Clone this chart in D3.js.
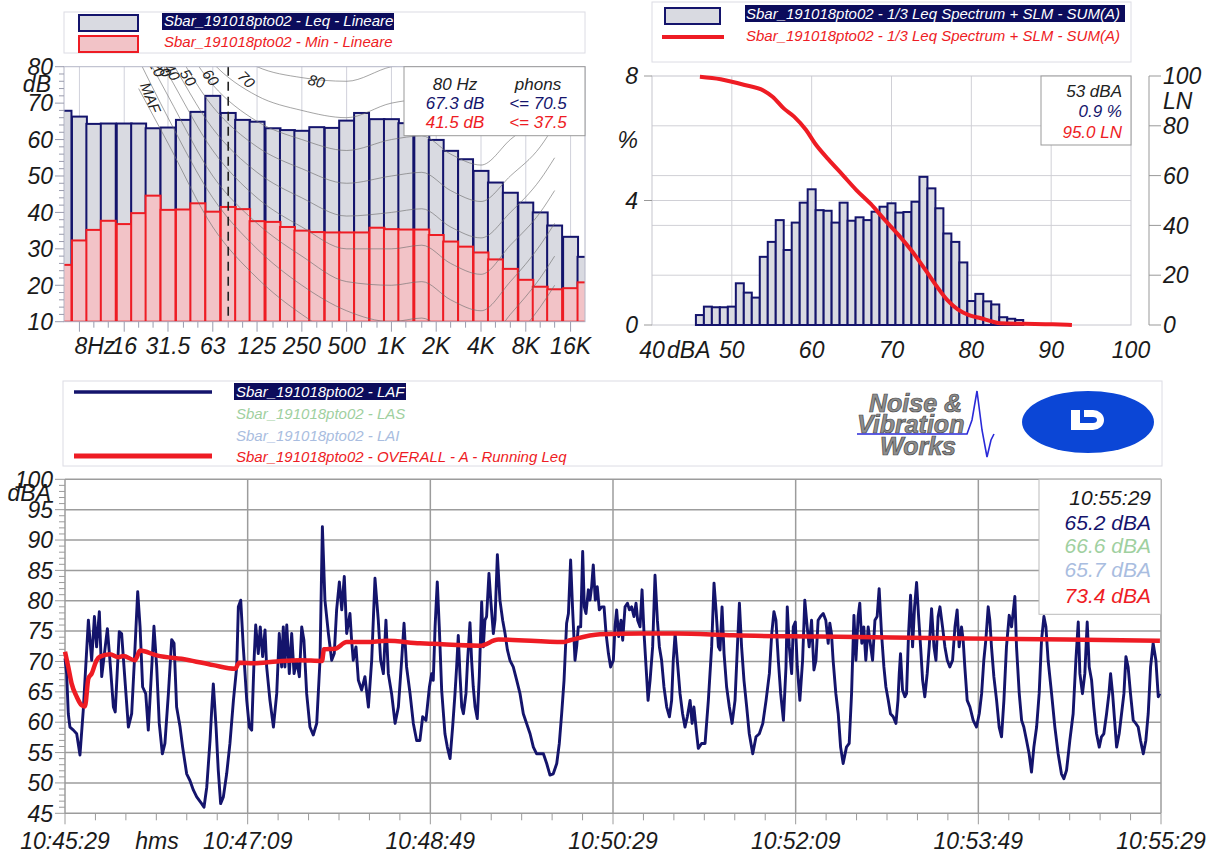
<!DOCTYPE html>
<html>
<head>
<meta charset="utf-8">
<script src="https://cdn.jsdelivr.net/npm/d3@7"></script>
<style>
  body { margin: 0; background: #fff; }
  svg text { font-family: "Liberation Sans", Arial, sans-serif; font-style: italic; }
</style>
</head>
<body>
<svg id="chart" width="1220" height="854"></svg>
<script>
// ---------- 1/3 octave spectrum (top left) ----------
const bandFreqs = [6.3, 8, 10, 12.5, 16, 20, 25, 31.5, 40, 50, 63, 80, 100, 125, 160, 200, 250, 315, 400, 500,
  630, 800, 1000, 1250, 1600, 2000, 2500, 3150, 4000, 5000, 6300, 8000, 10000, 12500, 16000, 20000];
const leqLevels = [67.9, 66.3, 64.3, 64.4, 64.4, 64.4, 63.1, 63.3, 65.4, 67.6, 72.0, 67.3, 65.4, 64.9, 63.1, 62.6, 62.4, 63.4, 63.2, 65.2,
  67.3, 65.6, 65.6, 64.5, 62.5, 59.9, 56.9, 54.6, 51.4, 48.2, 45.4, 42.7, 40.0, 36.4, 33.3, 27.8];
const minLevels = [25.6, 32.3, 35.2, 37.7, 36.8, 39.8, 44.6, 40.7, 40.8, 42.5, 40.2, 41.5, 40.9, 37.6, 37.4, 36.0, 35.0, 34.6, 34.5, 34.5,
  34.5, 35.8, 35.4, 35.3, 35.3, 33.8, 32.0, 30.6, 29.0, 27.1, 24.5, 21.5, 19.6, 18.9, 19.2, 20.8];
const octaveTicks = [8, 16, 31.5, 63, 125, 250, 500, 1000, 2000, 4000, 8000, 16000];
const octaveLabels = ["8Hz", "16", "31.5", "63", "125", "250", "500", "1K", "2K", "4K", "8K", "16K"];
const cursorFreq = 80;
const phonReadout = ["<= 70.5", "<= 37.5"];

// equal loudness contours in the background (dB per frequency)
const contourFreqs = [20, 31.5, 63, 125, 250, 500, 1000, 1600, 2500, 4000, 6300, 10000, 12500];
const contourMAF = [74, 59, 36, 22, 12, 5, 3, 3, -2, -5, 4, 14, 20];
const contour10 = [82, 66, 44, 30, 20, 13, 10, 11, 6, 3, 12, 22, 28];
const contour20 = [87, 72, 50, 37, 28, 21, 20, 21, 16, 13, 21, 31, 37];
const contour30 = [92, 78, 57, 44, 36, 30, 30, 31, 26, 23, 31, 40, 46];
const contour40 = [96, 83, 63, 51, 44, 39, 40, 41, 36, 33, 40, 49, 55];
const contour50 = [100, 88, 69, 58, 52, 48, 50, 51, 46, 43, 50, 58, 64];
const contour60 = [104, 93, 75, 65, 60, 57, 60, 61, 56, 53, 60, 67, 73];
const contour70 = [108, 98, 81, 72, 68, 66, 70, 71, 66, 63, 70, 76, 82];
const contour80 = [112, 103, 88, 80, 77, 76, 80, 81, 76, 73, 80, 85, 91];

// ---------- level distribution (top right) ----------
const histLevels = [46, 47, 48, 49, 50, 51, 52, 53, 54, 55, 56, 57, 58, 59, 60, 61, 62, 63, 64, 65, 66,
  67, 68, 69, 70, 71, 72, 73, 74, 75, 76, 77, 78, 79, 80, 81, 82, 83, 84, 85, 86];
const histPercent = [0.32, 0.59, 0.57, 0.57, 0.59, 1.34, 1.04, 0.88, 2.19, 2.67, 3.37, 2.41, 3.29, 3.93, 4.36, 3.69, 3.67, 3.29, 3.93, 3.35, 3.46,
  3.37, 3.64, 3.80, 3.91, 3.61, 3.63, 3.96, 4.76, 4.39, 3.75, 2.94, 2.67, 2.01, 0.77, 1.00, 0.76, 0.66, 0.25, 0.20, 0.16];
const lnLevels = [46.0, 48.6, 51.6, 54.0, 55.1, 56.5, 57.8, 59.3, 60.4, 62.1, 63.9, 65.6, 67.4, 69.1, 70.9, 72.6, 74.4, 75.7, 77.0, 78.3, 79.7, 81.2, 82.7, 83.6, 86.7, 90.2, 92.6];
const lnValues = [99.7, 98.7, 96.4, 94.1, 91.7, 87.0, 83.7, 78.3, 73.0, 66.5, 60.2, 54.2, 48.6, 42.4, 36.1, 29.5, 21.4, 15.4, 10.0, 6.3, 4.0, 2.7, 1.3, 0.7, 0.5, 0.3, 0.0];
const histReadout = ["53 dBA", "0.9 %", "95.0 LN"];

// ---------- time history (bottom), t in seconds from 10:45:29 ----------
const timeLabels = ["10:45:29", "10:47:09", "10:48:49", "10:50:29", "10:52:09", "10:53:49", "10:55:29"];
const lafSeries = [
  [0,70.5],[0.9,68.0],[1.8,61.4],[2.7,59.2],[4.6,58.7],[6.4,58.1],[8.2,54.6],[10.0,62.0],[12.8,76.8],[14.6,70.2],[16.1,77.4],[17.3,72.4],
  [18.8,78.2],[20.1,67.5],[23.2,75.4],[24.6,70.2],[26.5,62.5],[27.5,61.7],[29.7,74.9],[31.0,74.6],[32.3,69.1],[34.7,59.2],[36.5,61.4],
  [38.0,70.2],[39.8,81.5],[41.1,75.7],[42.5,65.8],[44.2,64.7],[45.6,58.7],[46.5,63.6],[48.7,75.8],[50.2,69.1],[51.6,59.8],[53.3,54.8],
  [54.7,56.5],[56.6,64.7],[58.4,73.6],[59.7,73.0],[61.1,62.5],[63.0,59.2],[64.4,55.9],[66.6,51.5],[68.4,50.4],[70.3,48.8],[72.1,47.7],
  [74.8,46.6],[76.1,46.0],[77.6,49.3],[79.4,57.0],[80.3,62.0],[81.2,66.3],[82.7,59.2],[83.9,52.1],[85.2,46.6],[86.7,47.7],[88.5,51.5],
  [90.3,56.5],[92.2,63.6],[94.0,69.1],[94.9,79.0],[96.2,80.1],[97.6,72.4],[99.5,63.6],[100.9,59.2],[102.2,58.7],[103.5,70.2],[104.4,76.0],
  [105.8,71.3],[106.9,75.7],[108.2,70.8],[109.5,75.2],[110.4,69.1],[112.2,63.6],[114.1,59.2],[115.9,64.7],[117.3,74.6],[118.6,69.1],
  [119.5,75.7],[120.4,69.1],[121.4,76.0],[122.8,68.0],[124.1,74.6],[125.4,68.0],[126.8,70.2],[128.3,67.5],[129.6,75.7],[130.8,73.5],
  [132.3,64.7],[134.1,59.2],[135.9,57.9],[137.8,59.8],[139.6,70.2],[140.9,92.2],[142.3,80.1],[144.2,74.6],[146.0,70.2],[147.4,71.3],
  [148.7,78.5],[150.2,83.1],[151.5,78.5],[152.9,84.0],[154.2,74.6],[156.0,77.9],[156.9,73.5],[157.8,70.2],[159.3,72.4],[160.6,66.9],
  [162.4,65.3],[164.2,67.5],[166.1,62.5],[167.9,70.2],[169.7,83.7],[171.5,76.8],[172.8,70.2],[174.3,68.0],[175.7,76.8],[177.0,68.0],
  [178.8,64.7],[180.7,59.8],[182.5,62.5],[184.3,70.2],[185.6,76.3],[187.0,69.1],[188.9,64.7],[190.7,59.8],[192.5,57.0],
  [194.3,57.0],[195.8,60.9],[197.6,60.3],[199.5,65.8],[200.7,68.0],[201.6,66.9],[202.6,75.7],[203.8,83.1],[204.9,75.7],[206.2,65.3],
  [208.0,58.1],[209.3,55.9],[210.8,54.0],[212.2,59.2],[213.5,64.7],[214.4,69.1],[215.3,74.3],[216.2,68.0],[217.2,62.5],[218.1,61.4],
  [219.5,64.7],[220.4,70.2],[221.7,76.4],[222.6,70.2],[223.5,65.8],[224.5,62.5],[225.7,60.6],[226.8,67.5],[228.1,79.8],[229.0,72.4],
  [229.9,76.8],[230.8,77.4],[232.1,84.5],[233.2,79.6],[234.5,74.6],[235.4,76.8],[236.7,87.6],[238.1,80.1],[239.6,76.8],[240.9,74.6],
  [242.2,71.9],[243.6,70.2],[245.4,69.1],[247.3,66.9],[249.1,64.7],[250.9,61.4],[252.7,59.8],[254.6,58.1],[256.4,55.9],[258.2,54.8],
  [260.0,54.8],[261.9,54.8],[263.7,53.2],[265.5,51.3],[267.3,51.5],[269.2,53.2],[270.6,56.5],[271.9,61.4],[273.2,66.9],[274.6,76.3],
  [275.6,77.9],[276.8,86.7],[277.9,78.5],[279.2,70.2],[280.1,72.4],[281.0,75.7],[282.3,75.7],[283.4,88.1],[284.3,79.0],[285.2,77.9],
  [286.5,81.8],[287.4,80.1],[288.3,82.3],[289.2,85.9],[290.3,80.1],[291.4,82.3],[292.5,78.5],[293.8,79.0],[295.1,79.0],[296.2,74.6],
  [297.5,71.3],[298.7,69.1],[300.2,70.2],[301.1,75.7],[302.0,78.5],[303.1,74.1],[304.4,76.8],[305.3,73.5],[306.6,79.0],[307.9,79.6],
  [309.0,78.5],[310.2,79.0],[311.5,77.4],[312.6,79.6],[313.5,76.8],[314.8,75.7],[315.9,81.8],[317.0,74.6],[318.1,69.1],[319.2,63.6],
  [320.3,66.9],[321.7,72.4],[323.0,84.2],[324.3,76.8],[325.4,72.4],[326.6,70.2],[327.9,65.8],[329.4,62.5],[330.9,60.9],[332.1,63.6],
  [333.0,70.2],[334.0,74.6],[335.2,70.2],[336.7,64.7],[338.1,61.4],[339.4,59.2],[340.7,60.9],[342.2,63.6],[343.3,59.8],[344.3,62.5],
  [345.8,58.1],[346.7,55.7],[348.5,56.5],[350.4,56.5],[352.2,63.6],[354.0,72.4],[355.3,82.9],[356.4,78.5],[357.7,72.4],[358.6,71.9],
  [359.7,79.0],[360.8,71.3],[362.2,65.8],[363.7,62.5],[365.2,59.8],[366.8,63.6],[368.1,72.4],[369.2,79.6],[370.4,72.4],[371.7,66.9],
  [373.2,62.5],[374.6,58.1],[376.5,54.8],[378.3,57.6],[380.1,58.1],[382.0,59.8],[383.8,63.6],[385.6,68.0],[386.9,74.6],[388.1,78.2],
  [389.2,76.8],[390.5,70.2],[391.8,64.7],[393.3,60.3],[394.7,69.1],[395.4,79.0],[396.5,72.4],[397.8,68.0],[398.7,75.7],[399.8,76.5],
  [400.9,69.1],[402.3,63.6],[403.8,70.2],[405.0,80.1],[406.3,75.7],[407.4,72.4],[408.7,76.8],[410.0,68.6],[411.1,70.2],[412.3,76.8],
  [413.6,77.4],[415.1,77.9],[416.5,76.8],[417.8,73.0],[418.7,76.3],[419.6,74.6],[420.5,70.2],[422.0,64.7],[423.3,61.4],[424.6,55.9],
  [426.0,53.2],[427.8,55.9],[429.3,56.5],[430.6,64.7],[431.9,77.6],[433.0,70.2],[434.2,77.4],[435.1,79.6],[436.2,73.0],[437.3,75.7],
  [438.4,70.2],[439.7,75.7],[440.6,73.5],[442.1,70.2],[443.4,76.8],[444.6,77.4],[445.7,82.0],[447.0,74.6],[448.3,69.1],[449.4,65.8],
  [450.7,63.6],[451.9,61.4],[453.4,60.9],[454.9,59.8],[456.0,63.6],[456.7,68.0],[457.4,71.3],[458.5,65.3],[459.8,64.2],[460.7,64.7],
  [461.8,74.6],[462.9,80.9],[464.0,72.4],[465.1,79.0],[466.2,83.0],[467.3,77.4],[468.4,72.4],[469.5,66.9],[470.7,64.2],[472.0,68.0],
  [473.1,72.4],[474.4,78.7],[475.7,72.4],[476.8,70.2],[478.0,77.4],[479.0,79.0],[480.4,75.7],[481.7,72.4],[483.0,70.2],[484.4,69.1],
  [485.9,70.2],[487.2,75.7],[488.4,78.5],[489.5,72.4],[490.8,75.7],[491.7,73.5],[492.6,69.1],[493.9,63.6],[495.4,62.5],[497.2,60.3],
  [499.0,59.2],[500.5,61.4],[501.8,64.7],[503.0,70.2],[504.1,73.5],[505.4,79.0],[506.3,76.8],[507.2,72.4],[508.5,67.5],[510.0,63.6],
  [511.4,59.2],[512.7,57.6],[514.0,63.6],[515.4,72.4],[516.9,77.6],[518.2,75.7],[520.0,80.7],[520.9,72.4],[522.4,64.7],[523.7,60.3],
  [524.9,59.2],[526.4,57.0],[527.8,54.8],[529.1,51.8],[530.4,55.9],[531.9,59.2],[533.3,64.7],[534.6,73.5],[535.9,77.4],[537.0,75.7],
  [538.2,70.2],[540.1,64.7],[541.9,59.2],[543.7,54.8],[545.5,51.5],[546.8,50.7],[548.3,52.1],[550.1,57.0],[551.9,61.4],[553.4,70.2],
  [554.7,76.5],[555.6,68.0],[557.0,64.7],[558.3,68.0],[559.6,76.5],[560.7,69.1],[562.0,66.9],[563.2,62.5],[564.7,58.1],[566.2,55.9],
  [567.4,57.6],[568.7,58.1],[570.2,61.4],[571.5,64.7],[572.4,68.0],[573.5,64.7],[574.6,60.3],[575.7,55.9],[577.1,58.1],[578.4,61.4],
  [579.7,64.7],[580.8,70.8],[582.0,69.1],[583.3,64.7],[584.8,60.3],[586.2,59.8],[587.5,59.2],[588.8,57.0],[590.3,54.8],[591.7,57.0],
  [593.0,61.4],[594.3,69.1],[595.7,73.0],[597.2,70.2],[598.5,64.2],[599.4,64.7]
];
const leqSeries = [
  [0,71.6],[1.8,69.1],[3.6,66.4],[6.4,64.2],[9.1,62.8],[10.9,62.6],[12.8,67.2],[14.6,68.0],[17.3,70.2],[19.2,70.8],[24.6,71.2],
  [29.2,70.7],[31.9,70.9],[38.3,70.2],[41.1,71.8],[50.2,71.0],[66.6,70.3],[81.2,69.4],[93.1,68.8],[95.4,69.8],[103.1,69.7],
  [115.9,70.0],[128.6,70.2],[140.7,70.1],[141.8,72.0],[147.8,72.1],[154.2,73.2],[165.1,73.2],[176.1,73.4],[194.3,73.0],
  [201.6,72.9],[227.2,72.6],[237.2,73.6],[272.8,73.2],[276.5,73.5],[292.9,74.5],[314.8,74.6],[334.9,74.6],[365.9,74.3],
  [413.3,74.1],[493.5,73.8],[548.3,73.6],[599.4,73.4]
];
const timeReadout = ["10:55:29", "65.2 dBA", "66.6 dBA", "65.7 dBA", "73.4 dBA"];

// ---------- styles ----------
const navy = "#14146c", red = "#ee1c24", pink = "#f2c3c7", barGray = "#d9dae1";
const lasGreen = "#9fd09f", laiBlue = "#a9bde0", tickColor = "#1a1a1a";

const svg = d3.select("#chart");

function txt(g, x, y, s, size, fill, anchor = "start") {
  return g.append("text").attr("x", x).attr("y", y).attr("font-size", size)
    .attr("fill", fill).attr("text-anchor", anchor).text(s);
}

// =============== spectrum ===============
const sp = { left: 64, right: 585, top: 66.7, bottom: 321.7 };
const fx = d3.scaleLog().domain([6.3, 20000]).range([sp.left, sp.right]);
const fy = d3.scaleLinear().domain([10, 80]).range([sp.bottom, sp.top]);

svg.append("clipPath").attr("id", "clipSpec").append("rect")
  .attr("x", sp.left).attr("y", sp.top).attr("width", sp.right - sp.left).attr("height", sp.bottom - sp.top);

const gSpec = svg.append("g");
gSpec.selectAll("line.vg").data(octaveTicks).join("line")
  .attr("x1", d => fx(d)).attr("x2", d => fx(d)).attr("y1", sp.top).attr("y2", sp.bottom)
  .attr("stroke", "#d0d1db").attr("stroke-width", 1);

const half = Math.pow(2, 1 / 6);
const specBars = gSpec.append("g").attr("clip-path", "url(#clipSpec)");
specBars.selectAll("rect.leq").data(bandFreqs).join("rect")
  .attr("x", d => fx(d / half)).attr("width", d => fx(d * half) - fx(d / half))
  .attr("y", (d, i) => fy(leqLevels[i])).attr("height", (d, i) => fy(10) - fy(leqLevels[i]))
  .attr("fill", barGray).attr("stroke", navy).attr("stroke-width", 2);
specBars.selectAll("rect.min").data(bandFreqs).join("rect")
  .attr("x", d => fx(d / half)).attr("width", d => fx(d * half) - fx(d / half))
  .attr("y", (d, i) => fy(minLevels[i])).attr("height", (d, i) => fy(10) - fy(minLevels[i]))
  .attr("fill", pink).attr("stroke", red).attr("stroke-width", 2);

const contourSets = [contourMAF, contour10, contour20, contour30, contour40, contour50, contour60, contour70, contour80];
const contourLine = d3.line().x(d => fx(d[0])).y(d => fy(d[1])).curve(d3.curveMonotoneX);
specBars.selectAll("path.contour").data(contourSets).join("path")
  .attr("d", c => contourLine(contourFreqs.map((f, i) => [f, c[i]])))
  .attr("fill", "none").attr("stroke", "#6f6f6f").attr("stroke-opacity", 0.7).attr("stroke-width", 0.9);

// contour labels
const contourLabels = [
  { t: "MAF", f: 24, db: 71.5, r: 68 }, { t: "20", f: 26.5, db: 79.5, r: 62 }, { t: "30", f: 29.5, db: 79.5, r: 62 },
  { t: "40", f: 33.5, db: 78.5, r: 60 }, { t: "50", f: 43, db: 77, r: 58 }, { t: "60", f: 61, db: 77, r: 52 },
  { t: "70", f: 106, db: 76.5, r: 45 }, { t: "80", f: 313, db: 76, r: 15 }
];
specBars.selectAll("text.cl").data(contourLabels).join("text")
  .attr("transform", d => `translate(${fx(d.f)},${fy(d.db)}) rotate(${d.r})`)
  .attr("font-size", 15).attr("fill", "#222").attr("text-anchor", "middle").attr("dy", "0.35em")
  .text(d => d.t);

gSpec.append("line").attr("x1", fx(cursorFreq)).attr("x2", fx(cursorFreq))
  .attr("y1", sp.top).attr("y2", sp.bottom).attr("stroke", "#222").attr("stroke-width", 1.6)
  .attr("stroke-dasharray", "9,6");

gSpec.append("rect").attr("x", sp.left).attr("y", sp.top).attr("width", sp.right - sp.left)
  .attr("height", sp.bottom - sp.top).attr("fill", "none").attr("stroke", "#b4b6c6").attr("stroke-width", 1);

// readout
const ci = bandFreqs.indexOf(cursorFreq);
gSpec.append("rect").attr("x", 404).attr("y", sp.top).attr("width", sp.right - 404).attr("height", 69)
  .attr("fill", "#fff").attr("stroke", "#999").attr("stroke-width", 1);
txt(gSpec, 455, 90, "80 Hz", 17, "#222", "middle");
txt(gSpec, 538, 90, "phons", 17, "#222", "middle");
txt(gSpec, 455, 109, leqLevels[ci].toFixed(1) + " dB", 17, navy, "middle");
txt(gSpec, 538, 109, phonReadout[0], 17, navy, "middle");
txt(gSpec, 455, 128, minLevels[ci].toFixed(1) + " dB", 17, red, "middle");
txt(gSpec, 538, 128, phonReadout[1], 17, red, "middle");

// y axis
gSpec.selectAll("line.yt").data(d3.range(10, 81, 2)).join("line")
  .attr("x1", d => d % 10 === 0 ? sp.left - 9 : sp.left - 5).attr("x2", sp.left)
  .attr("y1", d => fy(d)).attr("y2", d => fy(d)).attr("stroke", "#9a9cae").attr("stroke-width", 1);
gSpec.selectAll("text.yl").data(d3.range(10, 81, 10)).join("text")
  .attr("x", 53).attr("y", d => fy(d)).attr("dy", "0.36em").attr("text-anchor", "end")
  .attr("font-size", 23).attr("fill", tickColor).text(d => d);
txt(gSpec, 51, 92, "dB", 23, tickColor, "end");

// x axis
gSpec.selectAll("line.xt").data(bandFreqs.slice(1, -1)).join("line")
  .attr("x1", d => fx(d)).attr("x2", d => fx(d)).attr("y1", sp.bottom)
  .attr("y2", d => octaveTicks.includes(d) ? sp.bottom + 10 : sp.bottom + 6)
  .attr("stroke", "#9a9cae").attr("stroke-width", 1);
gSpec.selectAll("text.xl").data(octaveTicks).join("text")
  .attr("x", (d, i) => i === 0 ? fx(d) - 5 : fx(d)).attr("y", 354)
  .attr("text-anchor", (d, i) => i === 0 ? "start" : "middle")
  .attr("font-size", 23).attr("fill", tickColor).text((d, i) => octaveLabels[i]);

// legend
const lg1 = svg.append("g");
lg1.append("rect").attr("x", 64).attr("y", 12).attr("width", 521).attr("height", 41)
  .attr("fill", "#fff").attr("stroke", "#dcdce4");
lg1.append("rect").attr("x", 79).attr("y", 15).attr("width", 59).attr("height", 16)
  .attr("fill", barGray).attr("stroke", navy).attr("stroke-width", 2);
lg1.append("rect").attr("x", 79).attr("y", 36).attr("width", 59).attr("height", 16)
  .attr("fill", pink).attr("stroke", red).attr("stroke-width", 2);
lg1.append("rect").attr("x", 162).attr("y", 13).attr("width", 232).attr("height", 17).attr("fill", "#0c0c5c");
txt(lg1, 164, 26, "Sbar_191018pto02 - Leq - Lineare", 15, "#fff");
txt(lg1, 164, 47, "Sbar_191018pto02 - Min - Lineare", 15, red);

// =============== distribution ===============
const hp = { left: 652, right: 1131, top: 76, bottom: 325 };
const hx = d3.scaleLinear().domain([40, 100]).range([hp.left, hp.right]);
const hy = d3.scaleLinear().domain([0, 8]).range([hp.bottom, hp.top]);
const ly = d3.scaleLinear().domain([0, 100]).range([hp.bottom, hp.top]);

const gHist = svg.append("g");
gHist.selectAll("line.vg").data([50, 60, 70, 80, 90]).join("line")
  .attr("x1", d => hx(d)).attr("x2", d => hx(d)).attr("y1", hp.top).attr("y2", hp.bottom)
  .attr("stroke", "#d0d0d6").attr("stroke-width", 1);
gHist.selectAll("line.hg").data([20, 40, 60, 80]).join("line")
  .attr("x1", hp.left).attr("x2", hp.right).attr("y1", d => ly(d)).attr("y2", d => ly(d))
  .attr("stroke", "#d0d0d6").attr("stroke-width", 1);
gHist.append("line").attr("x1", hp.left).attr("x2", hp.right).attr("y1", hy(4)).attr("y2", hy(4))
  .attr("stroke", "#d0d0d6").attr("stroke-width", 1);
gHist.append("rect").attr("x", hp.left).attr("y", hp.top).attr("width", hp.right - hp.left)
  .attr("height", hp.bottom - hp.top).attr("fill", "none").attr("stroke", "#c6c6ce");

gHist.selectAll("rect.bar").data(histLevels).join("rect")
  .attr("x", d => hx(d - 0.5)).attr("width", d => hx(d + 0.5) - hx(d - 0.5))
  .attr("y", (d, i) => hy(histPercent[i])).attr("height", (d, i) => hy(0) - hy(histPercent[i]))
  .attr("fill", barGray).attr("stroke", navy).attr("stroke-width", 2);

const lnLine = d3.line().x(d => hx(d[0])).y(d => ly(d[1])).curve(d3.curveMonotoneX);
gHist.append("path").attr("d", lnLine(lnLevels.map((l, i) => [l, lnValues[i]])))
  .attr("fill", "none").attr("stroke", red).attr("stroke-width", 4).attr("stroke-linejoin", "round");

// readout
gHist.append("rect").attr("x", 1041).attr("y", hp.top).attr("width", hp.right - 1041).attr("height", 69)
  .attr("fill", "#fff").attr("stroke", "#999");
txt(gHist, 1122, 97, histReadout[0], 17, "#222", "end");
txt(gHist, 1122, 117, histReadout[1], 17, navy, "end");
txt(gHist, 1122, 138, histReadout[2], 17, red, "end");

// left axis
gHist.selectAll("line.lt").data([0, 4, 8]).join("line")
  .attr("x1", hp.left - 8).attr("x2", hp.left).attr("y1", d => hy(d)).attr("y2", d => hy(d))
  .attr("stroke", "#999");
gHist.selectAll("text.ll").data([0, 4, 8]).join("text")
  .attr("x", 638).attr("y", d => hy(d)).attr("dy", "0.36em").attr("text-anchor", "end")
  .attr("font-size", 23).attr("fill", tickColor).text(d => d);
txt(gHist, 638, 148, "%", 23, tickColor, "end");

// right axis
const rax = 1149;
gHist.append("line").attr("x1", rax).attr("x2", rax).attr("y1", hp.top).attr("y2", hp.bottom).attr("stroke", "#999");
gHist.selectAll("line.rt").data([0, 20, 40, 60, 80, 100]).join("line")
  .attr("x1", rax).attr("x2", rax + 12).attr("y1", d => ly(d)).attr("y2", d => ly(d)).attr("stroke", "#999");
gHist.selectAll("text.rl").data([0, 20, 40, 60, 80, 100]).join("text")
  .attr("x", rax + 14).attr("y", d => ly(d)).attr("dy", "0.36em")
  .attr("font-size", 23).attr("fill", tickColor).text(d => d);
txt(gHist, rax + 14, 109, "LN", 23, tickColor);

// x labels
gHist.selectAll("text.xl").data([40, 50, 60, 70, 80, 90, 100]).join("text")
  .attr("x", d => hx(d)).attr("y", 358).attr("text-anchor", "middle")
  .attr("font-size", 23).attr("fill", tickColor).text(d => d);
txt(gHist, hx(40) + 15, 358, "dBA", 23, tickColor);

// legend
const lg2 = svg.append("g");
lg2.append("rect").attr("x", hp.left).attr("y", 2).attr("width", hp.right - hp.left).attr("height", 60)
  .attr("fill", "#fff").attr("stroke", "#dcdce4");
lg2.append("rect").attr("x", 665).attr("y", 8).attr("width", 55).attr("height", 16)
  .attr("fill", barGray).attr("stroke", navy).attr("stroke-width", 2);
lg2.append("line").attr("x1", 662).attr("x2", 724).attr("y1", 37).attr("y2", 37)
  .attr("stroke", red).attr("stroke-width", 4);
lg2.append("rect").attr("x", 745).attr("y", 5).attr("width", 380).attr("height", 17).attr("fill", "#0c0c5c");
txt(lg2, 746, 19, "Sbar_191018pto02 - 1/3 Leq Spectrum + SLM - SUM(A)", 15, "#fff");
txt(lg2, 746, 41, "Sbar_191018pto02 - 1/3 Leq Spectrum + SLM - SUM(A)", 15, red);

// =============== time history ===============
const tp = { left: 65, right: 1161, top: 479.3, bottom: 813.3 };
const tx = d3.scaleLinear().domain([0, 600]).range([tp.left, tp.right]);
const ty = d3.scaleLinear().domain([45, 100]).range([tp.bottom, tp.top]);

const gTime = svg.append("g");
gTime.selectAll("line.hg").data(d3.range(45, 101, 5)).join("line")
  .attr("x1", tp.left).attr("x2", tp.right).attr("y1", d => ty(d)).attr("y2", d => ty(d))
  .attr("stroke", "#9c9c9c").attr("stroke-width", 1.5);
gTime.selectAll("line.vg").data(d3.range(0, 601, 100)).join("line")
  .attr("x1", d => tx(d)).attr("x2", d => tx(d)).attr("y1", tp.top).attr("y2", tp.bottom)
  .attr("stroke", "#9c9c9c").attr("stroke-width", 1.5);

// ticks
gTime.selectAll("line.yt").data(d3.range(45, 101, 1)).join("line")
  .attr("x1", d => d % 5 === 0 ? tp.left - 10 : tp.left - 6).attr("x2", tp.left)
  .attr("y1", d => ty(d)).attr("y2", d => ty(d)).attr("stroke", "#9c9c9c").attr("stroke-width", 1);
gTime.selectAll("line.xt").data(d3.range(0, 37)).join("line")
  .attr("x1", d => tx(d * 100 / 6)).attr("x2", d => tx(d * 100 / 6))
  .attr("y1", tp.bottom).attr("y2", d => d % 6 === 0 ? tp.bottom + 11 : tp.bottom + 7)
  .attr("stroke", "#9c9c9c").attr("stroke-width", 1);

gTime.selectAll("text.yl").data(d3.range(45, 101, 5)).join("text")
  .attr("x", 53).attr("y", d => ty(d)).attr("dy", "0.36em").attr("text-anchor", "end")
  .attr("font-size", 23).attr("fill", tickColor).text(d => d);
txt(gTime, 51, 501, "dBA", 23, tickColor, "end");
gTime.selectAll("text.xl").data(timeLabels).join("text")
  .attr("x", (d, i) => tx(i * 100)).attr("y", 849).attr("text-anchor", "middle")
  .attr("font-size", 23).attr("fill", tickColor).text(d => d);
txt(gTime, 157, 849, "hms", 23, tickColor, "middle");

const tLine = d3.line().x(d => tx(d[0])).y(d => ty(d[1]));
gTime.append("path").attr("d", tLine(lafSeries)).attr("fill", "none")
  .attr("stroke", navy).attr("stroke-width", 2.9).attr("stroke-linejoin", "round");
gTime.append("path").attr("d", tLine.curve(d3.curveMonotoneX)(leqSeries)).attr("fill", "none")
  .attr("stroke", red).attr("stroke-width", 4.5).attr("stroke-linejoin", "round");

// readout box
gTime.append("rect").attr("x", 1039).attr("y", tp.top).attr("width", tp.right - 1039).attr("height", 135)
  .attr("fill", "#fff").attr("stroke", "#bbb");
const roColors = ["#1a1a1a", navy, lasGreen, laiBlue, red];
timeReadout.forEach((s, i) => txt(gTime, 1151, [505, 530, 553, 577, 603][i], s, 21, roColors[i], "end"));

// legend
const lg3 = svg.append("g");
lg3.append("rect").attr("x", 63).attr("y", 381).attr("width", 1099).attr("height", 85)
  .attr("fill", "#fff").attr("stroke", "#dcdce4");
lg3.append("line").attr("x1", 74).attr("x2", 212).attr("y1", 392).attr("y2", 392).attr("stroke", navy).attr("stroke-width", 3.5);
lg3.append("line").attr("x1", 74).attr("x2", 212).attr("y1", 456).attr("y2", 456).attr("stroke", red).attr("stroke-width", 5);
lg3.append("rect").attr("x", 234).attr("y", 383).attr("width", 172).attr("height", 17).attr("fill", "#0c0c5c");
txt(lg3, 236, 397, "Sbar_191018pto02 - LAF", 15, "#fff");
txt(lg3, 236, 419, "Sbar_191018pto02 - LAS", 15, lasGreen);
txt(lg3, 236, 441, "Sbar_191018pto02 - LAI", 15, laiBlue);
txt(lg3, 236, 462, "Sbar_191018pto02 - OVERALL - A - Running Leq", 15, red);

// logos
const logo = svg.append("g");
const nvw = [["Noise &", 869, 412], ["Vibration", 857, 433], ["Works", 880, 455]];
nvw.forEach(([s, x, y]) => logo.append("text").attr("x", x).attr("y", y).attr("font-size", 25)
  .attr("font-weight", "bold").attr("fill", "#8e8e8e").attr("stroke", "#4a4a4a").attr("stroke-width", 0.7).text(s));
const wave = [[857, 434], [967, 434], [972, 420], [977, 391], [982, 430], [987, 457], [991, 440], [994, 434]];
logo.append("path").attr("d", d3.line()(wave)).attr("fill", "none").attr("stroke", "#2a2ad8").attr("stroke-width", 1.6);
logo.append("ellipse").attr("cx", 1088).attr("cy", 422).attr("rx", 66).attr("ry", 31).attr("fill", "#0b46d6");
logo.append("path").attr("fill", "#fff")
  .attr("d", "M1071,410 h9 v13 h11 v7 h-20 Z M1084,410 h9 a11,10 0 0 1 0,20 h-2 v-7 h2 a4,3 0 0 0 0,-6 h-9 Z");
</script>
</body>
</html>
